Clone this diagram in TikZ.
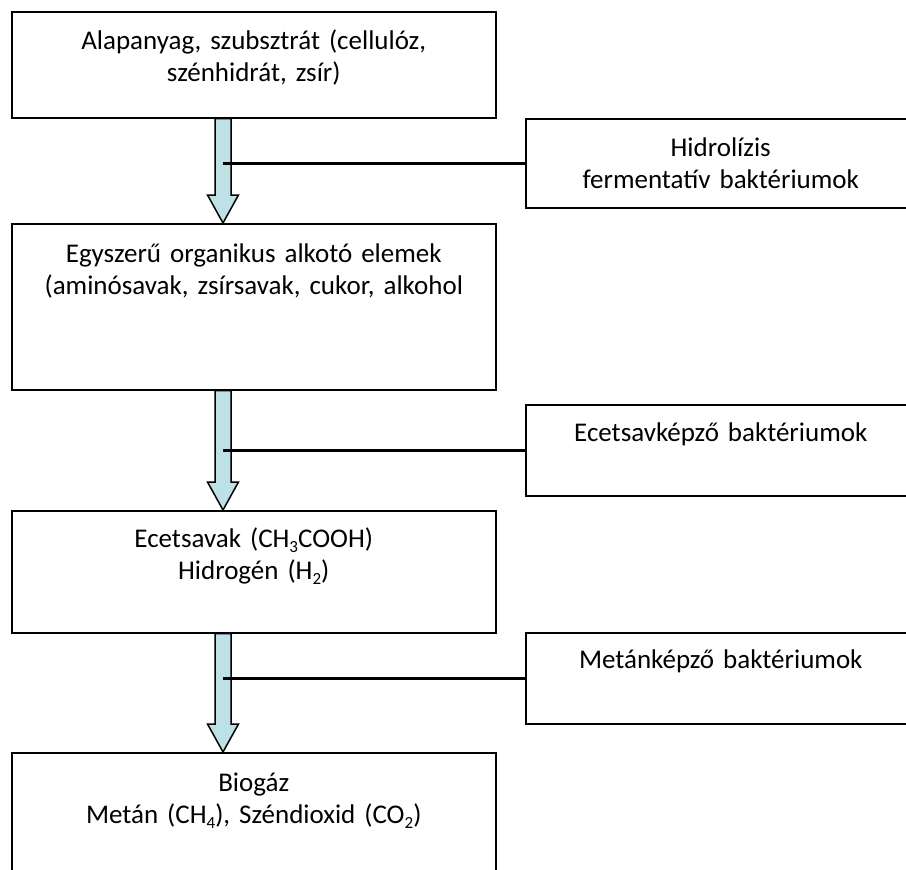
\documentclass[tikz,border=0pt]{standalone}
\usepackage{fontspec}
\setmainfont{Carlito}[WordSpace=0.75]
\usetikzlibrary{calc}
\definecolor{nyilkek}{RGB}{189,225,228}
\newcommand{\alsoindex}[1]{\raisebox{-0.22em}{\fontsize{17}{17}\selectfont #1}}
\tikzset{
	doboz/.style={draw, line width=1.5pt, inner sep=0pt, anchor=north west, minimum width=484},
	jdoboz/.style={draw, line width=1.5pt, inner sep=0pt, anchor=north west, minimum width=390},
	szoveg/.style={anchor=base, align=center, inner sep=0pt, font=\fontsize{27}{32}\selectfont},
	vonal/.style={line width=3.5pt},
	nyil/.style={draw, line width=1.5pt, fill=nyilkek, line join=miter}
}
\newcommand{\tombnyil}[2]{%
	\path[nyil] let \p1=(#1), \p2=(#2) in
		(\x1-8pt,\y1) -- (\x1-8pt,\y2+28pt) -- (\x1-15.5pt,\y2+28pt) -- (\x2,\y2)
		-- (\x1+15.5pt,\y2+28pt) -- (\x1+8pt,\y2+28pt) -- (\x1+8pt,\y1) -- cycle;}
\begin{document}
\begin{tikzpicture}[x=1pt, y=-1pt]
			\useasboundingbox (0,0) rectangle (906,870);
			\clip (0,0) rectangle (906,870);
			\node[doboz, minimum height=106] (alap) at (11,11) {};
			\node[doboz, minimum height=166] (elemek) at (11,223) {};
			\node[doboz, minimum height=122] (ecet) at (11,510) {};
			\node[doboz, minimum height=160] (biogaz) at (11,752) {};
			\node[jdoboz, minimum height=89] (hidro) at (525,118) {};
			\node[jdoboz, minimum height=91] (ecetbakt) at (525,404) {};
			\node[jdoboz, minimum height=91] (metanbakt) at (525,632) {};
			\node[szoveg, text width=484] (alaptxt) at ($(alap.north)+(0,38)$) {Alapanyag, szubsztrát (cellulóz,\\szénhidrát, zsír)};
			\node[szoveg, text width=484] (elemektxt) at ($(elemek.north)+(0,39)$) {Egyszerű organikus alkotó elemek\\(aminósavak, zsírsavak, cukor, alkohol};
			\node[szoveg, text width=484] (ecettxt) at ($(ecet.north)+(0,37)$) {Ecetsavak (CH\alsoindex{3}COOH)\\Hidrogén (H\alsoindex{2})};
			\node[szoveg, text width=484] (biogaztxt) at ($(biogaz.north)+(0,39)$) {Biogáz\\Metán (CH\alsoindex{4}), Széndioxid (CO\alsoindex{2})};
			\node[szoveg, text width=390] (hidrotxt) at ($(hidro.north)+(0,38)$) {Hidrolízis\\fermentatív baktériumok};
			\node[szoveg, text width=390] (ecetbakttxt) at ($(ecetbakt.north)+(0,37)$) {Ecetsavképző baktériumok};
			\node[szoveg, text width=390] (metanbakttxt) at ($(metanbakt.north)+(0,36)$) {Metánképző baktériumok};
			\coordinate (f1) at ($(alap.south west)+(212,0)$);
			\coordinate (f2) at ($(elemek.south west)+(212,0)$);
			\coordinate (f3) at ($(ecet.south west)+(212,0)$);
			\tombnyil{f1}{elemek.north -| f1}
			\tombnyil{f2}{ecet.north -| f2}
			\tombnyil{f3}{biogaz.north -| f3}
			\draw[vonal] (hidro.west -| f1) -- (hidro.west);
			\draw[vonal] (ecetbakt.west -| f2) -- (ecetbakt.west);
			\draw[vonal] (metanbakt.west -| f3) -- (metanbakt.west);
		\end{tikzpicture}
\end{document}
